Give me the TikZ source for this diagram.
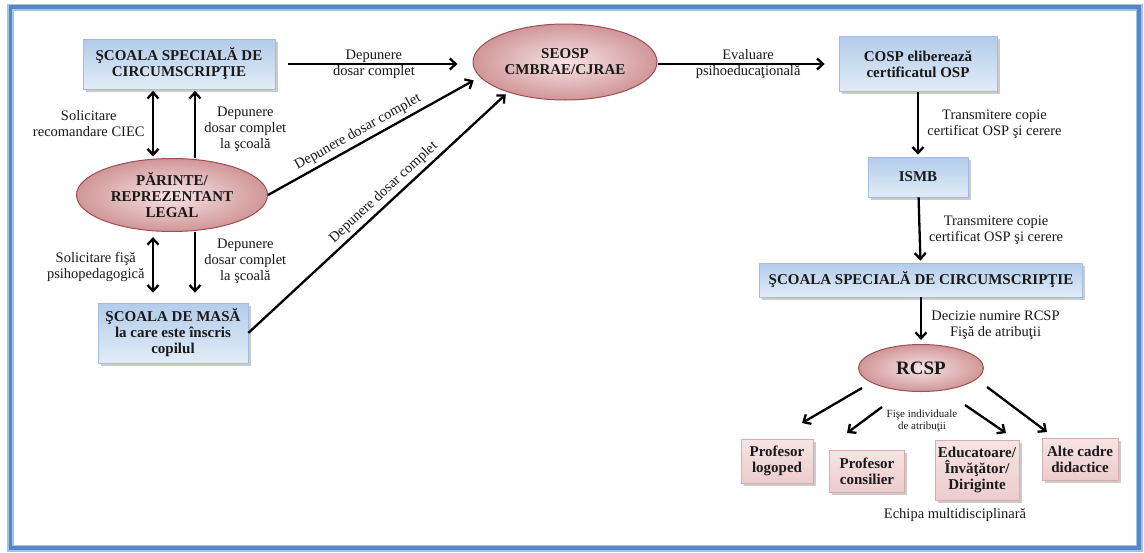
\documentclass[tikz,border=0pt]{standalone}
\usepackage{fontspec}
\setmainfont{Liberation Serif}
\usetikzlibrary{arrows.meta,shapes.geometric,shadows}
\definecolor{boxtop}{RGB}{178,204,234}
\definecolor{boxbot}{RGB}{226,236,247}
\definecolor{boxline}{RGB}{160,188,222}
\definecolor{ptop}{RGB}{247,228,228}
\definecolor{pbot}{RGB}{236,204,204}
\definecolor{pline}{RGB}{214,172,172}
\definecolor{oin}{RGB}{248,228,228}
\definecolor{oout}{RGB}{208,150,152}
\definecolor{oline}{RGB}{158,78,80}
\definecolor{frlight}{RGB}{160,196,232}
\definecolor{frdark}{RGB}{84,135,196}
\definecolor{txt}{RGB}{25,25,25}

\begin{document}
\begin{tikzpicture}[x=1pt,y=-1pt,text=txt,
 box/.style={draw=boxline,line width=.6pt,top color=boxtop,bottom color=boxbot,align=center,inner sep=2pt,font=\fontsize{15}{16}\selectfont\bfseries,drop shadow={shadow xshift=2.5pt,shadow yshift=-2.5pt,fill=black!40}},
 pbox/.style={box,draw=pline,top color=ptop,bottom color=pbot},
 oval/.style={ellipse,draw=oline,line width=1pt,inner color=oin,outer color=oout,align=center,inner sep=0pt,font=\fontsize{15}{16}\selectfont\bfseries},
 lab/.style={align=center,font=\fontsize{14.5}{16}\selectfont},
 arr/.style={line width=2.3pt,-{Straight Barb[length=6pt,width=11pt]}},
 dbl/.style={line width=2.3pt,{Straight Barb[length=6pt,width=11pt]}-{Straight Barb[length=6pt,width=11pt]}}]
\useasboundingbox (0,0) rectangle (1144,552);
\fill[white] (0,0) rectangle (1144,552);
\draw[line width=7pt,frlight] (10.5,7) rectangle (1139,548);
\draw[line width=3.5pt,frdark] (10.5,7) rectangle (1139,548);

\node[box,minimum width=192pt,minimum height=50pt] (s_1) at (179,64) {ŞCOALA SPECIALĂ DE\\CIRCUMSCRIPŢIE};
\node[oval,minimum width=191pt,minimum height=73pt] (par) at (172,195) {PĂRINTE/\\REPREZENTANT\\LEGAL};
\node[box,minimum width=150pt,minimum height=60pt] (masa) at (173,333) {ŞCOALA DE MASĂ\\la care este înscris\\copilul};
\node[oval,minimum width=184pt,minimum height=76pt] (seosp) at (565,62) {SEOSP\\CMBRAE/CJRAE};
\node[box,minimum width=158pt,minimum height=55pt] (cosp) at (918,64) {COSP eliberează\\certificatul OSP};
\node[box,minimum width=100pt,minimum height=40pt] (ismb) at (918,177) {ISMB};
\node[box,minimum width=323pt,minimum height=34pt] (s_2) at (921,280) {ŞCOALA SPECIALĂ DE CIRCUMSCRIPŢIE};
\node[oval,minimum width=125pt,minimum height=47pt,font=\fontsize{19}{20}\selectfont\bfseries] (rcsp) at (921,368) {RCSP};
\node[pbox,minimum width=72pt,minimum height=44pt] (p_1) at (777,461) {Profesor\\logoped};
\node[pbox,minimum width=75pt,minimum height=42pt] (p_2) at (867,471) {Profesor\\consilier};
\node[pbox,minimum width=84pt,minimum height=60pt] (p_3) at (977,470) {Educatoare/\\Învăţător/\\Diriginte};
\node[pbox,minimum width=76pt,minimum height=42pt] (p_4) at (1080,459) {Alte cadre\\didactice};
\node[lab] (echipa) at (955,515) {Echipa multidisciplinară};
\node[align=center,font=\fontsize{11}{12}\selectfont] (fise) at (922,421) {Fişe individuale\\de atribuţii};

\coordinate (f_1) at (862,388); \coordinate (t_1) at (802,423);
\coordinate (f_2) at (882,407); \coordinate (t_2) at (847,433);
\coordinate (f_3) at (965,405); \coordinate (t_3) at (1006,433);
\coordinate (f_4) at (987,387); \coordinate (t_4) at (1047,432);

\path[arr] (s_1.east) edge[shorten <=13pt,shorten >=15pt] node[lab] {Depunere\\dosar complet} (s_1.east -| seosp.west)
 (par.east) edge[shorten >=7pt] node[lab,sloped,above,pos=0.45] {Depunere dosar complet} (seosp.190)
 (masa.east) edge[shorten >=3pt] node[lab,sloped,above,pos=0.55] {Depunere dosar complet} (seosp.208)
 (seosp.east |- cosp.west) edge[shorten >=14pt] node[lab] {Evaluare\\psihoeducaţională} (cosp.west)
 (cosp) edge[shorten >=2pt] node[lab,right=5pt] {Transmitere copie\\certificat OSP şi cerere} (ismb)
 (ismb) edge[shorten >=2pt] node[lab,right=5pt] {Transmitere copie\\certificat OSP şi cerere} (s_2)
 (s_2) edge[shorten >=4pt] node[lab,right=6pt,yshift=-5pt] {Decizie numire RCSP\\Fişă de atribuţii} (rcsp)
 (f_1) edge (t_1) (f_2) edge (t_2) (f_3) edge (t_3) (f_4) edge (t_4);

\draw[dbl,shorten <=1.5pt,shorten >=1.5pt] ([xshift=-26pt]s_1.south) -- node[lab,left=4pt] {Solicitare\\recomandare CIEC} ([xshift=-26pt]s_1.south |- par.north);
\draw[arr,shorten >=1.5pt] ([xshift=16pt]s_1.south |- par.north) -- node[lab,right=5pt,yshift=-6pt] {Depunere\\dosar complet\\la şcoală} ([xshift=16pt]s_1.south);
\draw[dbl,shorten <=5pt,shorten >=10pt] ([xshift=-19pt]par.south) -- node[lab,left=4pt] {Solicitare fişă\\psihopedagogică} ([xshift=-19pt]par.south |- masa.north);
\draw[arr,shorten >=10pt] ([xshift=23pt]par.south) -- node[lab,right=5pt,yshift=6pt] {Depunere\\dosar complet\\la şcoală} ([xshift=23pt]par.south |- masa.north);
\end{tikzpicture}
\end{document}
